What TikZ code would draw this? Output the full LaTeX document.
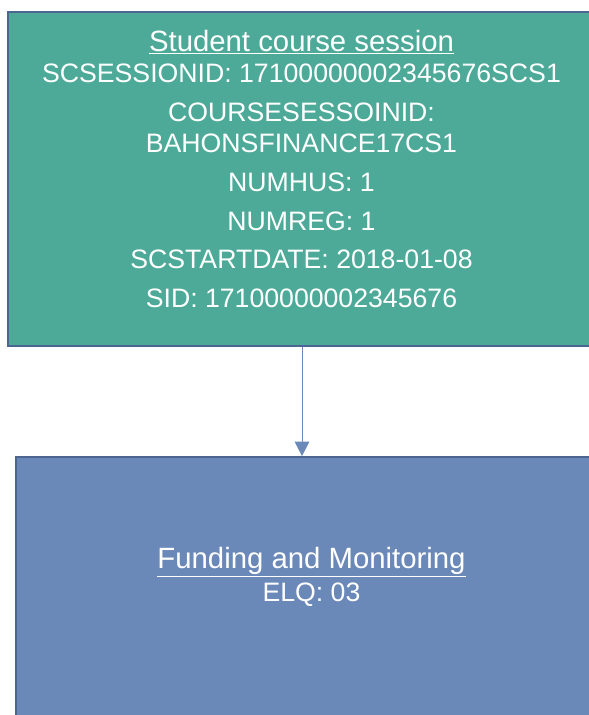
\documentclass[tikz,border=0pt]{standalone}
\usepackage{fontspec}
\setmainfont{Liberation Sans}
\usetikzlibrary{arrows.meta}
\definecolor{sessionfill}{HTML}{4DAA98}
\definecolor{fundfill}{HTML}{6A88B8}
\definecolor{boxline}{HTML}{4C6591}
\newcommand{\entitytitle}[1]{{\fontsize{22}{23.6}\selectfont\underline{#1}}}

\begin{document}
\begin{tikzpicture}[x=0.75pt,y=-0.75pt,>={Triangle[width=11pt,length=11pt]},
    entity/.style={draw=boxline,line width=1.5pt,inner sep=0pt},
    caption/.style={text=white,align=center,inner sep=0pt,
        font=\fontsize{20}{23.6}\selectfont}]
    \useasboundingbox (0,0) rectangle (589,715);
    \clip (0,0) rectangle (589,715);
    \node[entity,fill=sessionfill,minimum width=441pt,minimum height=250.5pt] (session) at (302,179) {};
    \node[entity,fill=fundfill,minimum width=444pt,minimum height=212pt] (funding) at (312,598.5) {};
    \node[caption,anchor=north] (sessiontext) at (301.5,30) {\entitytitle{Student course session}\\
        SCSESSIONID: 17100000002345676SCS1\\[5.3pt]
        COURSESESSOINID:\\
        BAHONSFINANCE17CS1\\[5.3pt]
        NUMHUS: 1\\[5.3pt]
        NUMREG: 1\\[5.3pt]
        SCSTARTDATE: 2018-01-08\\[5.3pt]
        SID: 17100000002345676};
    \node[caption,anchor=north] (fundingtext) at (311.5,547) {\entitytitle{Funding and Monitoring}\\[1pt]
        ELQ: 03};
    \draw[->,fundfill,line width=0.75pt] (session.south) -- (session.south |- funding.north);
\end{tikzpicture}
\end{document}
